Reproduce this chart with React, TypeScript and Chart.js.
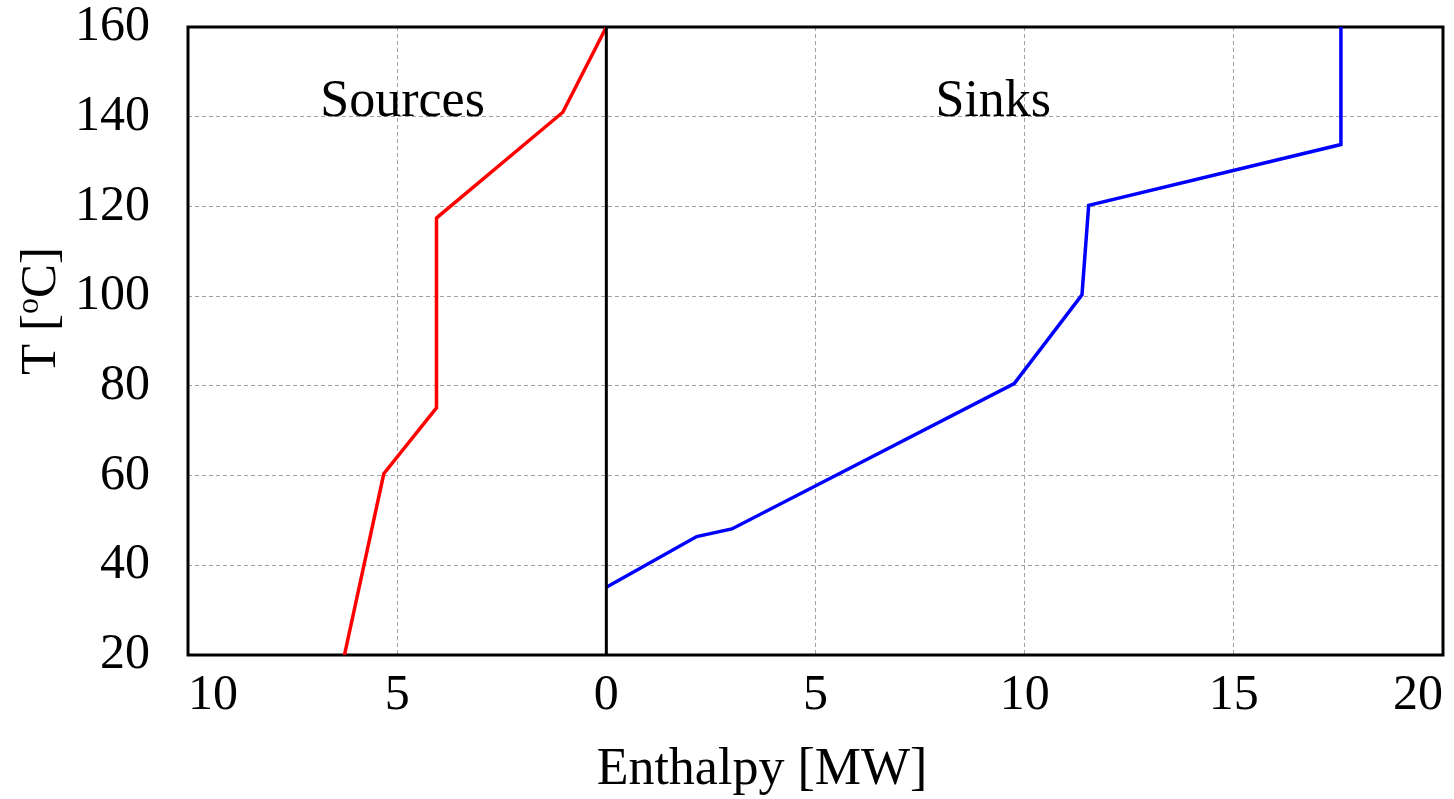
import React, { useEffect, useRef } from "react";
import { Chart, registerables } from "chart.js";

Chart.register(...registerables);

// Sources (hot composite), enthalpy plotted to the left (negative)
const sourceEnthalpy = [-6.26, -5.32, -4.06, -4.06, -4.0, -1.04, 0];
const sourceTemp = [20, 60.4, 75.1, 117.4, 117.9, 141.0, 160];

// Sinks (cold composite)
const sinkEnthalpy = [0, 2.16, 3.0, 9.75, 11.37, 11.53, 17.56, 17.56];
const sinkTemp = [35.1, 46.4, 48.1, 80.5, 100.3, 120.25, 133.8, 160];

// Divider at zero enthalpy
const dividerEnthalpy = [0, 0];
const dividerTemp = [20, 160];

const regionLabels = ["Sources", "Sinks"];
const regionLabelX = [-4.87, 9.25];
const regionLabelY = [143.3, 143.3];

const xTitle = "Enthalpy [MW]";
const yTitleParts = ["T [", "o", "C]"];

const FONT = "'Liberation Serif', 'Times New Roman', serif";

export default function App() {
  const ref = useRef<HTMLCanvasElement | null>(null);

  useEffect(() => {
    const canvas = ref.current;
    if (!canvas) return;

    const toPts = (xs: number[], ys: number[]) => xs.map((x, i) => ({ x, y: ys[i] }));

    const decor = {
      id: "decor",
      beforeDatasetsDraw(chart: any) {
        const { ctx, chartArea: a } = chart;
        ctx.save();
        ctx.strokeStyle = "#000";
        ctx.lineWidth = 3;
        ctx.strokeRect(a.left, a.top, a.right - a.left, a.bottom - a.top);
        ctx.restore();
      },
      afterDraw(chart: any) {
        const { ctx, scales } = chart;
        ctx.save();
        ctx.fillStyle = "#000";
        // region labels
        ctx.font = `52px ${FONT}`;
        ctx.textAlign = "center";
        ctx.textBaseline = "middle";
        regionLabels.forEach((t, i) => {
          ctx.fillText(t, scales.x.getPixelForValue(regionLabelX[i]), scales.y.getPixelForValue(regionLabelY[i]));
        });
        // x title
        ctx.textBaseline = "alphabetic";
        ctx.fillText(xTitle, 762, 784);
        // y title rotated
        ctx.translate(55, 311);
        ctx.rotate(-Math.PI / 2);
        ctx.textAlign = "left";
        const f1 = `51px ${FONT}`;
        const f2 = `32px ${FONT}`;
        ctx.font = f1;
        const w0 = ctx.measureText(yTitleParts[0]).width;
        const w2 = ctx.measureText(yTitleParts[2]).width;
        ctx.font = f2;
        const w1 = ctx.measureText(yTitleParts[1]).width;
        const total = w0 + w1 + w2;
        let x0 = -total / 2;
        ctx.font = f1;
        ctx.fillText(yTitleParts[0], x0, 0);
        x0 += w0;
        ctx.font = f2;
        ctx.fillText(yTitleParts[1], x0, -17);
        x0 += w1;
        ctx.font = f1;
        ctx.fillText(yTitleParts[2], x0, 0);
        ctx.restore();
      },
    };

    const zeroPad = (s: any) => {
      s.paddingTop = 0;
      s.paddingBottom = 0;
      s.paddingLeft = 0;
      s.paddingRight = 0;
    };

    const chart = new Chart(canvas, {
      type: "scatter",
      data: {
        datasets: [
          {
            label: "Divider",
            data: toPts(dividerEnthalpy, dividerTemp),
            showLine: true,
            borderColor: "#000",
            borderWidth: 3,
            pointRadius: 0,
          },
          {
            label: "Sources",
            data: toPts(sourceEnthalpy, sourceTemp),
            showLine: true,
            borderColor: "#ff0000",
            borderWidth: 3.5,
            pointRadius: 0,
          },
          {
            label: "Sinks",
            data: toPts(sinkEnthalpy, sinkTemp),
            showLine: true,
            borderColor: "#0000ff",
            borderWidth: 3.5,
            pointRadius: 0,
          },
        ],
      },
      options: {
        animation: false,
        responsive: false,
        devicePixelRatio: 1,
        layout: { padding: { left: 0, top: 27, right: 11, bottom: 0 } },
        plugins: {
          legend: { display: false },
          tooltip: { enabled: false },
        },
        scales: {
          x: {
            type: "linear",
            min: -10,
            max: 20,
            border: { display: false, dash: [4, 3] },
            grid: {
              color: "#a0a0a0",
              lineWidth: 1,
              drawTicks: false,
            },
            ticks: {
              stepSize: 5,
              padding: 11,
              align: "inner",
              color: "#000",
              font: { family: FONT, size: 50 },
              maxRotation: 0,
              callback: (v: any) => String(Math.abs(Number(v))),
            },
            afterFit: (s: any) => {
              s.height = 144;
              zeroPad(s);
            },
          },
          y: {
            type: "linear",
            min: 20,
            max: 160,
            border: { display: false, dash: [4, 3] },
            grid: {
              color: "#a0a0a0",
              lineWidth: 1,
              drawTicks: false,
            },
            ticks: {
              stepSize: 20,
              padding: 38,
              color: "#000",
              font: { family: FONT, size: 50 },
            },
            afterFit: (s: any) => {
              s.width = 188;
              zeroPad(s);
            },
          },
        },
      },
      plugins: [decor],
    });

    return () => chart.destroy();
  }, []);

  return (
    <div style={{ position: "fixed", left: 0, top: 0, width: 1454, height: 799, background: "#fff" }}>
      <canvas ref={ref} width={1454} height={799} style={{ width: 1454, height: 799, display: "block" }} />
    </div>
  );
}
